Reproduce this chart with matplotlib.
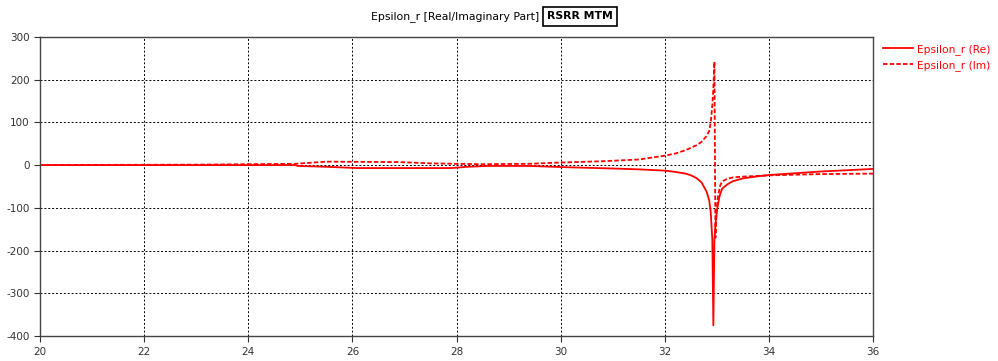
import matplotlib
matplotlib.use('Agg')
import matplotlib.pyplot as plt
import numpy as np

plt.rcParams['axes.unicode_minus'] = False

# frequency points and values
x_re = [20, 24.9, 24.95, 25.5, 26.1, 27.9, 28.2, 28.6, 29.4, 30.1, 31.0, 31.5, 32.0,
        32.2, 32.4, 32.5, 32.6, 32.7, 32.8, 32.85, 32.88, 32.91, 32.93, 32.95, 32.97,
        33.0, 33.05, 33.1, 33.2, 33.3, 33.5, 33.8, 34.02, 35.0, 36]
eps_re = [0, 0, -2, -4, -7, -7, -4, -2, -2, -5, -8, -10, -13,
          -16, -20, -24, -30, -40, -62, -82, -110, -175, -375, -175, -140,
          -105, -72, -55, -45, -38, -31, -26, -23, -15, -9]

x_im = [20, 23.0, 24.9, 25.5, 26.9, 27.5, 28.5, 29.4, 30.0, 30.8, 31.5, 32.0,
        32.2, 32.4, 32.6, 32.7, 32.8, 32.85, 32.88, 32.91, 32.93, 32.95, 32.97,
        32.99, 33.02, 33.06, 33.1, 33.2, 33.3, 33.5, 34.02, 35, 36]
eps_im = [0, 1, 3, 8, 7, 4, 2, 3, 6, 9, 13, 22,
          27, 35, 46, 54, 68, 80, 100, 140, 180, 242, -170,
          -110, -72, -48, -38, -32, -29, -27, -24, -21, -20]

xticks = [20, 22, 24, 26, 28, 30, 32, 34, 36]
yticks = [-400, -300, -200, -100, 0, 100, 200, 300]

fig = plt.figure(figsize=(9.98, 3.61), dpi=100)
ax = fig.add_axes([0.040, 0.069, 0.835, 0.829])

ax.plot(x_re, eps_re, color='red', lw=1.3, label='Epsilon_r (Re)')
ax.plot(x_im, eps_im, color='red', lw=1.3, ls=(0, (2.5, 1.2)), label='Epsilon_r (Im)')

ax.set_xlim(20, 36)
ax.set_ylim(-400, 300)
ax.set_xticks(xticks)
ax.set_yticks(yticks)
ax.grid(True, color='black', ls=(0, (2, 2)), lw=0.7)
ax.tick_params(labelsize=7.5, colors='#333333', length=4, width=0.8)
for s in ax.spines.values():
    s.set_color('#444444')
    s.set_linewidth(1.0)

fig.text(0.456, 0.955, 'Epsilon_r [Real/Imaginary Part]', ha='center', va='center', fontsize=7.8)
fig.text(0.581, 0.955, 'RSRR MTM', ha='center', va='center', fontsize=7.8, fontweight='bold',
         bbox=dict(boxstyle='square,pad=0.4', fc='white', ec='black', lw=1.2))

leg = fig.legend(loc='upper left', bbox_to_anchor=(0.875, 0.905), frameon=False,
                 fontsize=7.7, handlelength=2.8, labelspacing=0.5, handletextpad=0.4)
for t in leg.get_texts():
    t.set_color('red')

plt.savefig('out.png', dpi=100)
